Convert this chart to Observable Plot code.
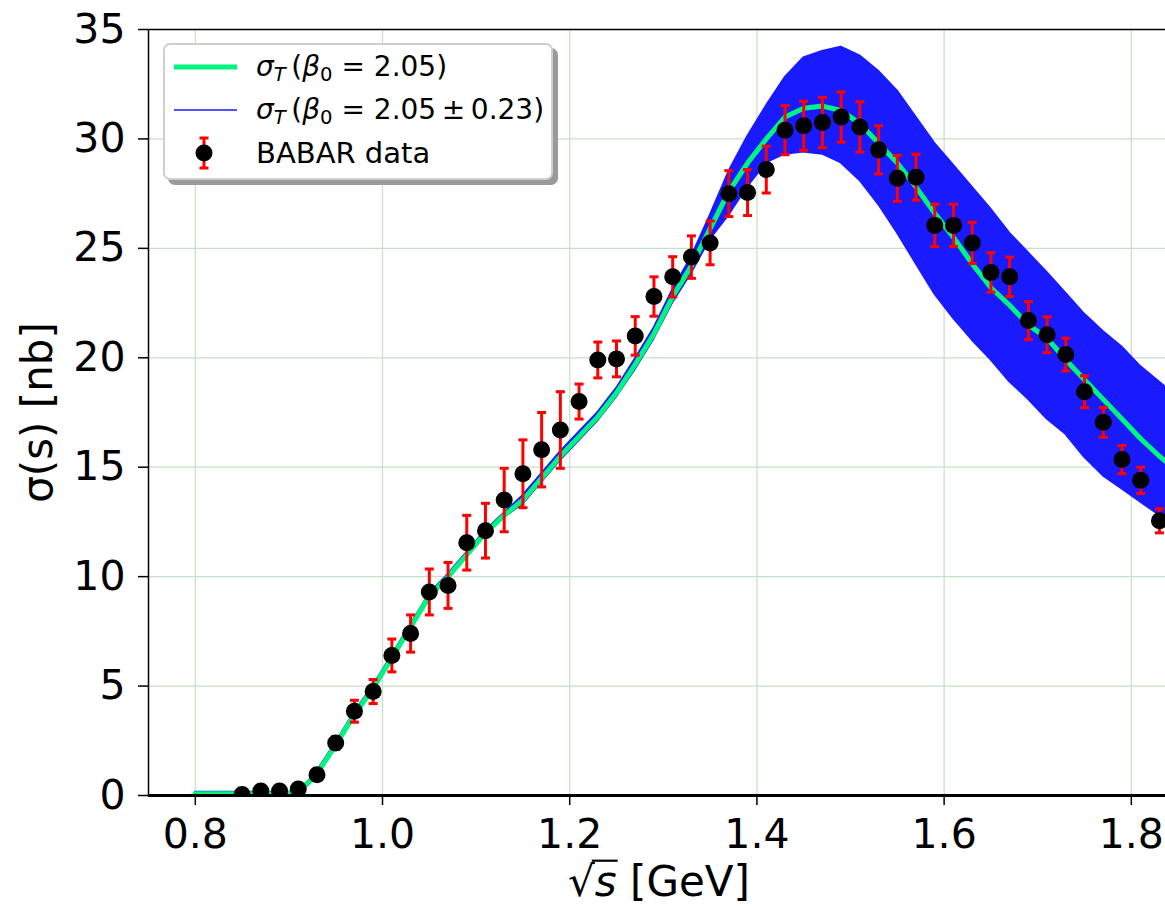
<!DOCTYPE html>
<html>
<head>
<meta charset="utf-8">
<script src="https://cdn.jsdelivr.net/npm/d3@7"></script>
<script src="https://cdn.jsdelivr.net/npm/@observablehq/plot@0.6"></script>
<style>
  body { margin: 0; background: #fff; font-family: "DejaVu Sans", sans-serif; }
  #wrap { position: relative; width: 1165px; height: 908px; overflow: hidden; }
  #legend {
    position: absolute; left: 163px; top: 43px; width: 386px; height: 133px;
    background: #fff; border: 2px solid #cfcfcf; border-radius: 7px;
    box-shadow: 5px 5px 0 #9a9a9a; font-size: 29px; color: #000;
  }
  .row { position: absolute; left: 0; height: 42px; width: 100%; }
  .row svg { position: absolute; left: 7px; top: 0; }
  .row .lbl { position: absolute; left: 91px; top: 0; height: 42px; line-height: 42px; white-space: nowrap; }
  .row .math { font-size: 28px; }
  .lbl i { font-style: italic; }
  .lbl sub { font-size: 0.7em; vertical-align: -0.25em; line-height: 0; }
</style>
</head>
<body>
<div id="wrap">
  <div id="chart"></div>
  <div id="legend">
    <div class="row" style="top:1px">
      <svg width="70" height="42"><line x1="2" x2="65" y1="21" y2="21" stroke="#00f57f" stroke-width="5"/></svg>
      <div class="lbl math"><i>σ</i><sub><i>T</i></sub>&thinsp;(<i>β</i><sub>0</sub> = 2.05)</div>
    </div>
    <div class="row" style="top:44px">
      <svg width="70" height="42"><line x1="2" x2="65" y1="21" y2="21" stroke="#1a1aff" stroke-width="1.5"/></svg>
      <div class="lbl math"><i>σ</i><sub><i>T</i></sub>&thinsp;(<i>β</i><sub>0</sub> = 2.05&thinsp;±&thinsp;0.23)</div>
    </div>
    <div class="row" style="top:87px">
      <svg width="70" height="42">
        <line x1="32" x2="32" y1="6" y2="36" stroke="red" stroke-width="3"/>
        <line x1="27.5" x2="36.5" y1="6" y2="6" stroke="red" stroke-width="3"/>
        <line x1="27.5" x2="36.5" y1="36" y2="36" stroke="red" stroke-width="3"/>
        <circle cx="32" cy="21" r="8.5" fill="black"/>
      </svg>
      <div class="lbl">BABAR data</div>
    </div>
  </div>
</div>
<script>
// ---- data ----
const sqrtS = [0.85,0.87,0.89,0.91,0.93,0.95,0.97,0.99,1.01,1.03,1.05,1.07,1.09,1.11,1.13,1.15,1.17,1.19,1.21,1.23,1.25,1.27,1.29,1.31,1.33,1.35,1.37,1.39,1.41,1.43,1.45,1.47,1.49,1.51,1.53,1.55,1.57,1.59,1.61,1.63,1.65,1.67,1.69,1.71,1.73,1.75,1.77,1.79,1.81,1.83];
const sigma = [0.05,0.2,0.2,0.3,0.95,2.4,3.85,4.75,6.4,7.4,9.3,9.6,11.55,12.1,13.5,14.7,15.8,16.7,18.0,19.9,19.95,21.0,22.8,23.7,24.6,25.25,27.5,27.55,28.6,30.4,30.6,30.75,31.0,30.55,29.5,28.2,28.25,26.05,26.05,25.25,23.9,23.7,21.7,21.05,20.15,18.45,17.05,15.35,14.4,12.55];
const sigmaErr = [0.1,0.1,0.1,0.15,0.25,0.3,0.5,0.55,0.75,0.85,1.05,1.05,1.25,1.25,1.45,1.55,1.7,1.75,0.8,0.82,0.82,0.88,0.9,0.92,0.97,1.0,1.05,1.05,1.07,1.12,1.12,1.15,1.15,1.15,1.1,1.05,1.05,0.97,0.97,0.94,0.9,0.9,0.87,0.82,0.75,0.73,0.68,0.64,0.6,0.55];

const curveX   = [0.80,0.85,0.89,0.90,0.91,0.92,0.93,0.95,0.97,0.99,1.01,1.03,1.05,1.07,1.09,1.11,1.13,1.15,1.17,1.19,1.21,1.23,1.25,1.27,1.29,1.31,1.33,1.35,1.37,1.39,1.41,1.43,1.45,1.47,1.49,1.51,1.53,1.55,1.57,1.59,1.61,1.63,1.65,1.67,1.69,1.71,1.73,1.75,1.77,1.79,1.81,1.83,1.85];
const curveMid = [0.08,0.08,0.08,0.1,0.2,0.55,1.0,2.3,3.7,4.9,6.3,7.7,9.1,10.0,11.0,12.0,12.8,13.5,14.5,15.5,16.4,17.3,18.4,19.7,21.1,22.8,24.2,25.9,27.6,28.9,30.0,31.0,31.4,31.5,31.3,30.7,29.8,28.9,27.8,26.6,25.5,24.3,23.2,22.4,21.5,20.9,19.9,19.0,18.1,17.2,16.3,15.5,14.8];
const curveLo  = [0.0,0.0,0.0,0.05,0.15,0.45,0.9,2.2,3.6,4.8,6.2,7.6,9.0,9.9,10.9,11.9,12.7,13.3,14.3,15.3,16.2,17.1,18.2,19.45,20.85,22.5,23.85,25.4,26.5,27.8,28.9,29.3,29.4,29.3,28.9,28.1,27.0,25.7,24.3,22.9,21.8,20.8,19.9,18.9,18.1,17.2,16.5,15.45,14.6,14.0,13.4,12.8,12.1];
const curveHi  = [0.15,0.15,0.15,0.15,0.25,0.6,1.1,2.4,3.8,5.0,6.4,7.8,9.2,10.1,11.1,12.1,12.9,13.7,14.7,15.7,16.6,17.5,18.6,19.95,21.35,23.1,24.6,26.5,28.5,30.1,31.5,32.8,33.7,34.0,34.2,33.8,33.1,32.2,31.0,29.8,28.8,27.8,26.8,25.7,24.8,23.9,22.95,22.0,21.2,20.5,19.6,18.9,18.2];

const xTicks = [0.8,1.0,1.2,1.4,1.6,1.8];
const yTicks = [0,5,10,15,20,25,30,35];

// ---- build tables ----
const points = sqrtS.map((x, i) => ({x, y: sigma[i], e: sigmaErr[i]}));
const curve = curveX.map((x, i) => ({x, mid: curveMid[i], lo: curveLo[i], hi: curveHi[i]}));

const capSymbol = {
  draw(context, size) {
    const r = Math.sqrt(size / Math.PI);
    context.moveTo(-r, 0);
    context.lineTo(r, 0);
  }
};

const gridColor = "#c6e0c6";
const labelSize = 42;

const chart = Plot.plot({
  width: 1165,
  height: 908,
  marginLeft: 148,
  marginRight: 0,
  marginTop: 29,
  marginBottom: 113,
  style: {fontFamily: "DejaVu Sans", background: "white", color: "black"},
  x: {domain: [0.75, 1.8365]},
  y: {domain: [0, 35]},
  marks: [
    Plot.gridX(xTicks, {stroke: gridColor, strokeOpacity: 1, strokeWidth: 1.2}),
    Plot.gridY(yTicks, {stroke: gridColor, strokeOpacity: 1, strokeWidth: 1.2}),
    Plot.areaY(curve, {x: "x", y1: "lo", y2: "hi", fill: "#1a1aff", stroke: "#1a1aff", strokeWidth: 1.8, clip: true}),
    Plot.lineY(curve, {x: "x", y: "mid", stroke: "#00f57f", strokeWidth: 5, clip: true}),
    Plot.ruleX(points, {x: "x", y1: d => d.y - d.e, y2: d => d.y + d.e, stroke: "red", strokeWidth: 3, clip: true}),
    Plot.dot(points, {x: "x", y: d => d.y - d.e, symbol: capSymbol, r: 4.5, stroke: "red", strokeWidth: 3, clip: true}),
    Plot.dot(points, {x: "x", y: d => d.y + d.e, symbol: capSymbol, r: 4.5, stroke: "red", strokeWidth: 3, clip: true}),
    Plot.dot(points, {x: "x", y: "y", r: 8.5, fill: "black", clip: true}),
    Plot.ruleX([0.75], {stroke: "black", strokeWidth: 1.5}),
    Plot.ruleY([0], {stroke: "black", strokeWidth: 3}),
    Plot.ruleY([35], {stroke: "black", strokeWidth: 1.5}),
    Plot.axisX(xTicks, {tickFormat: d3.format(".1f"), fontSize: 41, tickSize: 10, tickPadding: 13, strokeWidth: 1.5, label: null}),
    Plot.axisY(yTicks, {tickFormat: d3.format("d"), fontSize: 41, tickSize: 10, tickPadding: 13, strokeWidth: 1.5, label: null}),
    Plot.text(["σ(s) [nb]"], {frameAnchor: "left", textAnchor: "middle", lineAnchor: "middle", rotate: -90, dx: -110, fontSize: labelSize}),
    Plot.text(["√s [GeV]"], {frameAnchor: "bottom", textAnchor: "middle", lineAnchor: "bottom", dx: 2, dy: 100, fontSize: labelSize})
  ]
});

document.getElementById("chart").appendChild(chart);

// italic s with a radical bar in the x-axis title
d3.select(chart).selectAll("text").each(function() {
  if (this.textContent === "√s [GeV]") {
    this.textContent = "";
    const t = d3.select(this);
    t.append("tspan").text("√");
    t.append("tspan").attr("font-style", "italic").text("s");
    t.append("tspan").text(" [GeV]");
    const e0 = this.getExtentOfChar(0);
    const e1 = this.getExtentOfChar(1);
    const baseline = e1.y + e1.height * (0.928 / 1.164);
    const yBar = baseline - 0.83 * labelSize;
    d3.select(this.parentNode).append("line")
      .attr("transform", this.getAttribute("transform"))
      .attr("x1", e0.x + e0.width - 3)
      .attr("x2", e1.x + e1.width + 1)
      .attr("y1", yBar).attr("y2", yBar)
      .attr("stroke", "black").attr("stroke-width", 2.2);
  }
});
</script>
</body>
</html>
